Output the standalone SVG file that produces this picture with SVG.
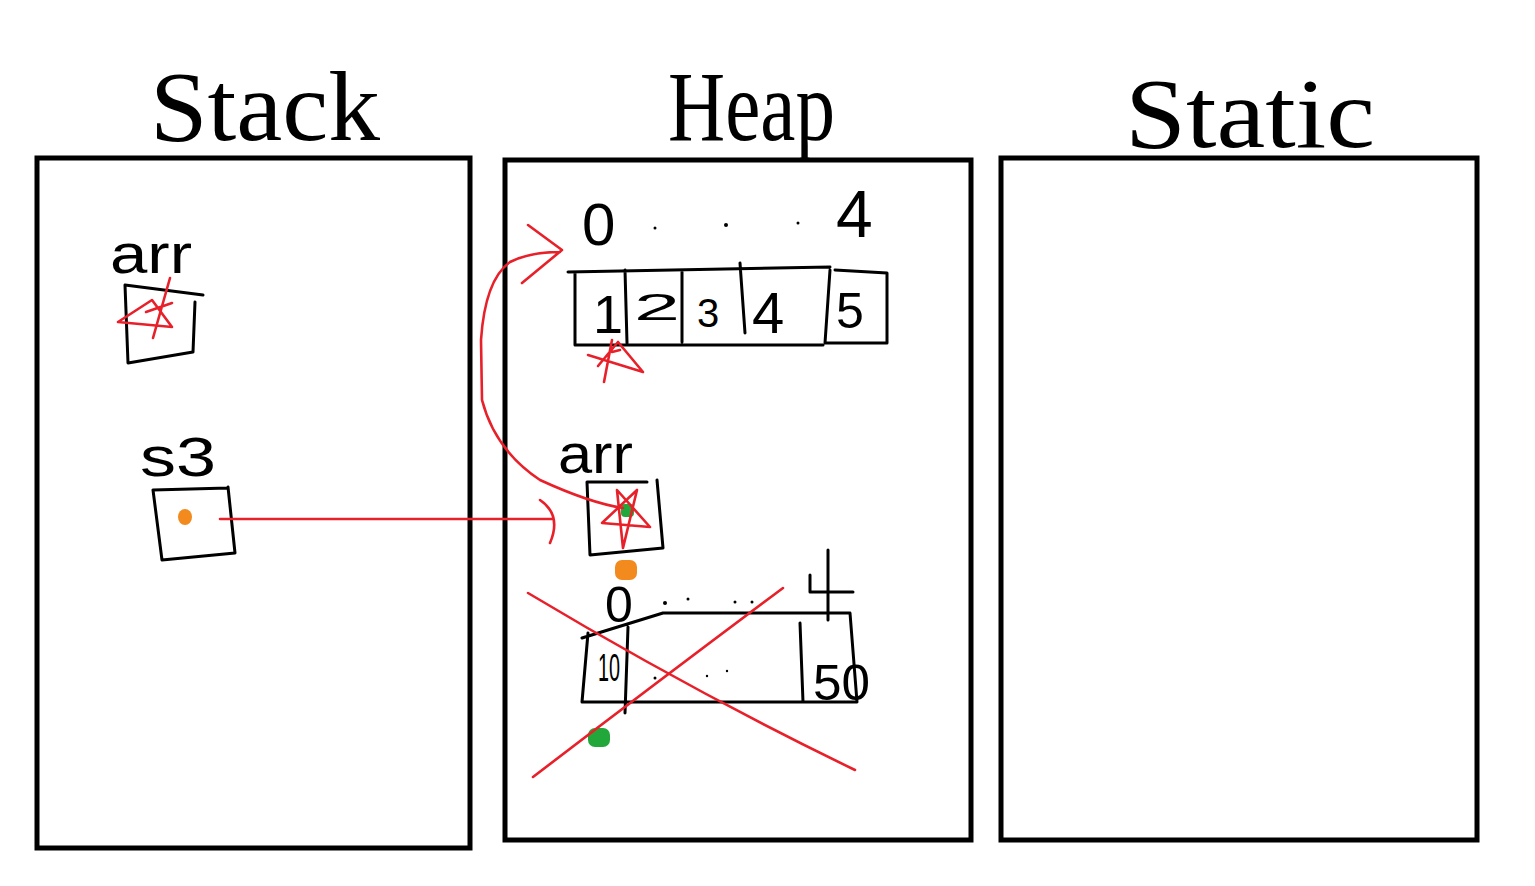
<svg xmlns="http://www.w3.org/2000/svg" width="1535" height="886" viewBox="0 0 1535 886">
<style>
.panel{fill:none;stroke:#000;stroke-width:5}
.ink{fill:none;stroke:#000;stroke-width:3;stroke-linecap:round;stroke-linejoin:round}
.red{fill:none;stroke:#e8202a;stroke-width:2.6;stroke-linecap:round;stroke-linejoin:round}
.t{font-family:"Liberation Sans","DejaVu Sans",sans-serif;fill:#000}
.title{font-family:"Liberation Serif","DejaVu Serif",serif;font-size:100px;fill:#000}
.dot{fill:#000}
</style>
<rect width="1535" height="886" fill="#fff"/>

<g id="stack">
  <rect class="panel" x="37" y="158" width="433" height="690"/>
  <text class="title" x="150" y="140" textLength="230" lengthAdjust="spacingAndGlyphs">Stack</text>
</g>
<g id="heap">
  <rect class="panel" x="505" y="160" width="466" height="680"/>
  <text class="title" x="668" y="140" font-size="110" textLength="167" lengthAdjust="spacingAndGlyphs">Heap</text>
</g>
<g id="static">
  <rect class="panel" x="1001" y="158" width="476" height="682"/>
  <text class="title" x="1125" y="147" textLength="250" lengthAdjust="spacingAndGlyphs">Static</text>
</g>

<g id="stack-arr">
  <text class="t" x="110" y="273" font-size="56" textLength="82" lengthAdjust="spacingAndGlyphs">arr</text>
  <path class="ink" d="M125,285 L203,295 M125,285 L128,363 L193,352 M195,302 L193,352"/>
  <path class="red" d="M170,278 L153,338 M118,322 L172,327 L152,300 L118,322 M146,312 L172,303"/>
</g>

<g id="stack-s3">
  <text class="t" x="140" y="476" font-size="56" textLength="76" lengthAdjust="spacingAndGlyphs">s3</text>
  <path class="ink" d="M153,490 L228,488 M153,490 L162,560 L235,553 L228,487"/>
  <ellipse cx="185" cy="517" rx="7" ry="8" fill="#f28a1e"/>
</g>

<g id="heap-array1">
  <text class="t" x="582" y="245" font-size="60">0</text>
  <circle class="dot" cx="655" cy="228" r="1.5"/>
  <circle class="dot" cx="726" cy="225" r="2"/>
  <circle class="dot" cx="798" cy="223" r="1.5"/>
  <text class="t" x="836" y="237" font-size="66">4</text>
  <path class="ink" d="M568,272 L830,267 M575,272 L575,345 L823,345 M830,270 L825,343 M625,270 L627,343 M682,272 L682,342 M740,263 L745,333 M835,270 L887,273 L887,343 L825,343"/>
  <text class="t" x="593" y="333" font-size="54">1</text>
  <text class="t" x="634" y="320" font-size="36" textLength="46" lengthAdjust="spacingAndGlyphs">2</text>
  <text class="t" x="697" y="327" font-size="40">3</text>
  <text class="t" x="752" y="333" font-size="58">4</text>
  <text class="t" x="836" y="328" font-size="50">5</text>
  <path class="red" d="M612,340 L604,382 M588,355 L643,372 L618,342 L598,366 M612,352 L620,350"/>
</g>

<g id="heap-arr">
  <text class="t" x="558" y="473" font-size="56" textLength="75" lengthAdjust="spacingAndGlyphs">arr</text>
  <path class="ink" d="M587,482 L647,482 M587,482 L590,555 L663,548 L657,480"/>
  <rect x="621" y="504" width="13" height="13" rx="4" fill="#22a83a"/>
  <path class="red" d="M617,490 L650,527 L602,523 L637,490 L623,548 Z"/>
  <rect x="615" y="560" width="22" height="20" rx="7" fill="#f28a1e"/>
</g>

<g id="heap-array2">
  <text class="t" x="605" y="622" font-size="50">0</text>
  <circle class="dot" cx="665" cy="603" r="2"/>
  <circle class="dot" cx="688" cy="599" r="1.5"/>
  <circle class="dot" cx="735" cy="602" r="1.5"/>
  <circle class="dot" cx="752" cy="602" r="1.5"/>
  <path class="ink" d="M582,638 Q640,620 663,613 L850,613 L857,702 L582,702 L588,633 M628,627 L625,713 M800,623 L803,702 M828,550 L828,620 M810,575 L810,592 L853,592"/>
  <text class="t" x="598" y="681" font-size="38" textLength="22" lengthAdjust="spacingAndGlyphs">10</text>
  <text class="t" x="813" y="700" font-size="50" textLength="57" lengthAdjust="spacingAndGlyphs">50</text>
  <circle class="dot" cx="655" cy="678" r="1.5"/>
  <circle class="dot" cx="707" cy="676" r="1.2"/>
  <circle class="dot" cx="727" cy="671" r="1.2"/>
  <rect x="588" y="728" width="22" height="19" rx="7" fill="#22a83a"/>
</g>

<g id="connectors">
  <path class="red" d="M220,519 L553,519 M540,500 Q562,515 550,543"/>
  <path class="red" d="M623,508 Q590,503 540,480 Q495,450 482,400 L481,340 Q485,280 510,262 Q530,252 560,252 M528,225 L562,250 L522,283"/>
  <path class="red" d="M528,593 Q690,690 855,770"/>
  <path class="red" d="M533,777 Q660,680 783,588"/>
</g>
</svg>
